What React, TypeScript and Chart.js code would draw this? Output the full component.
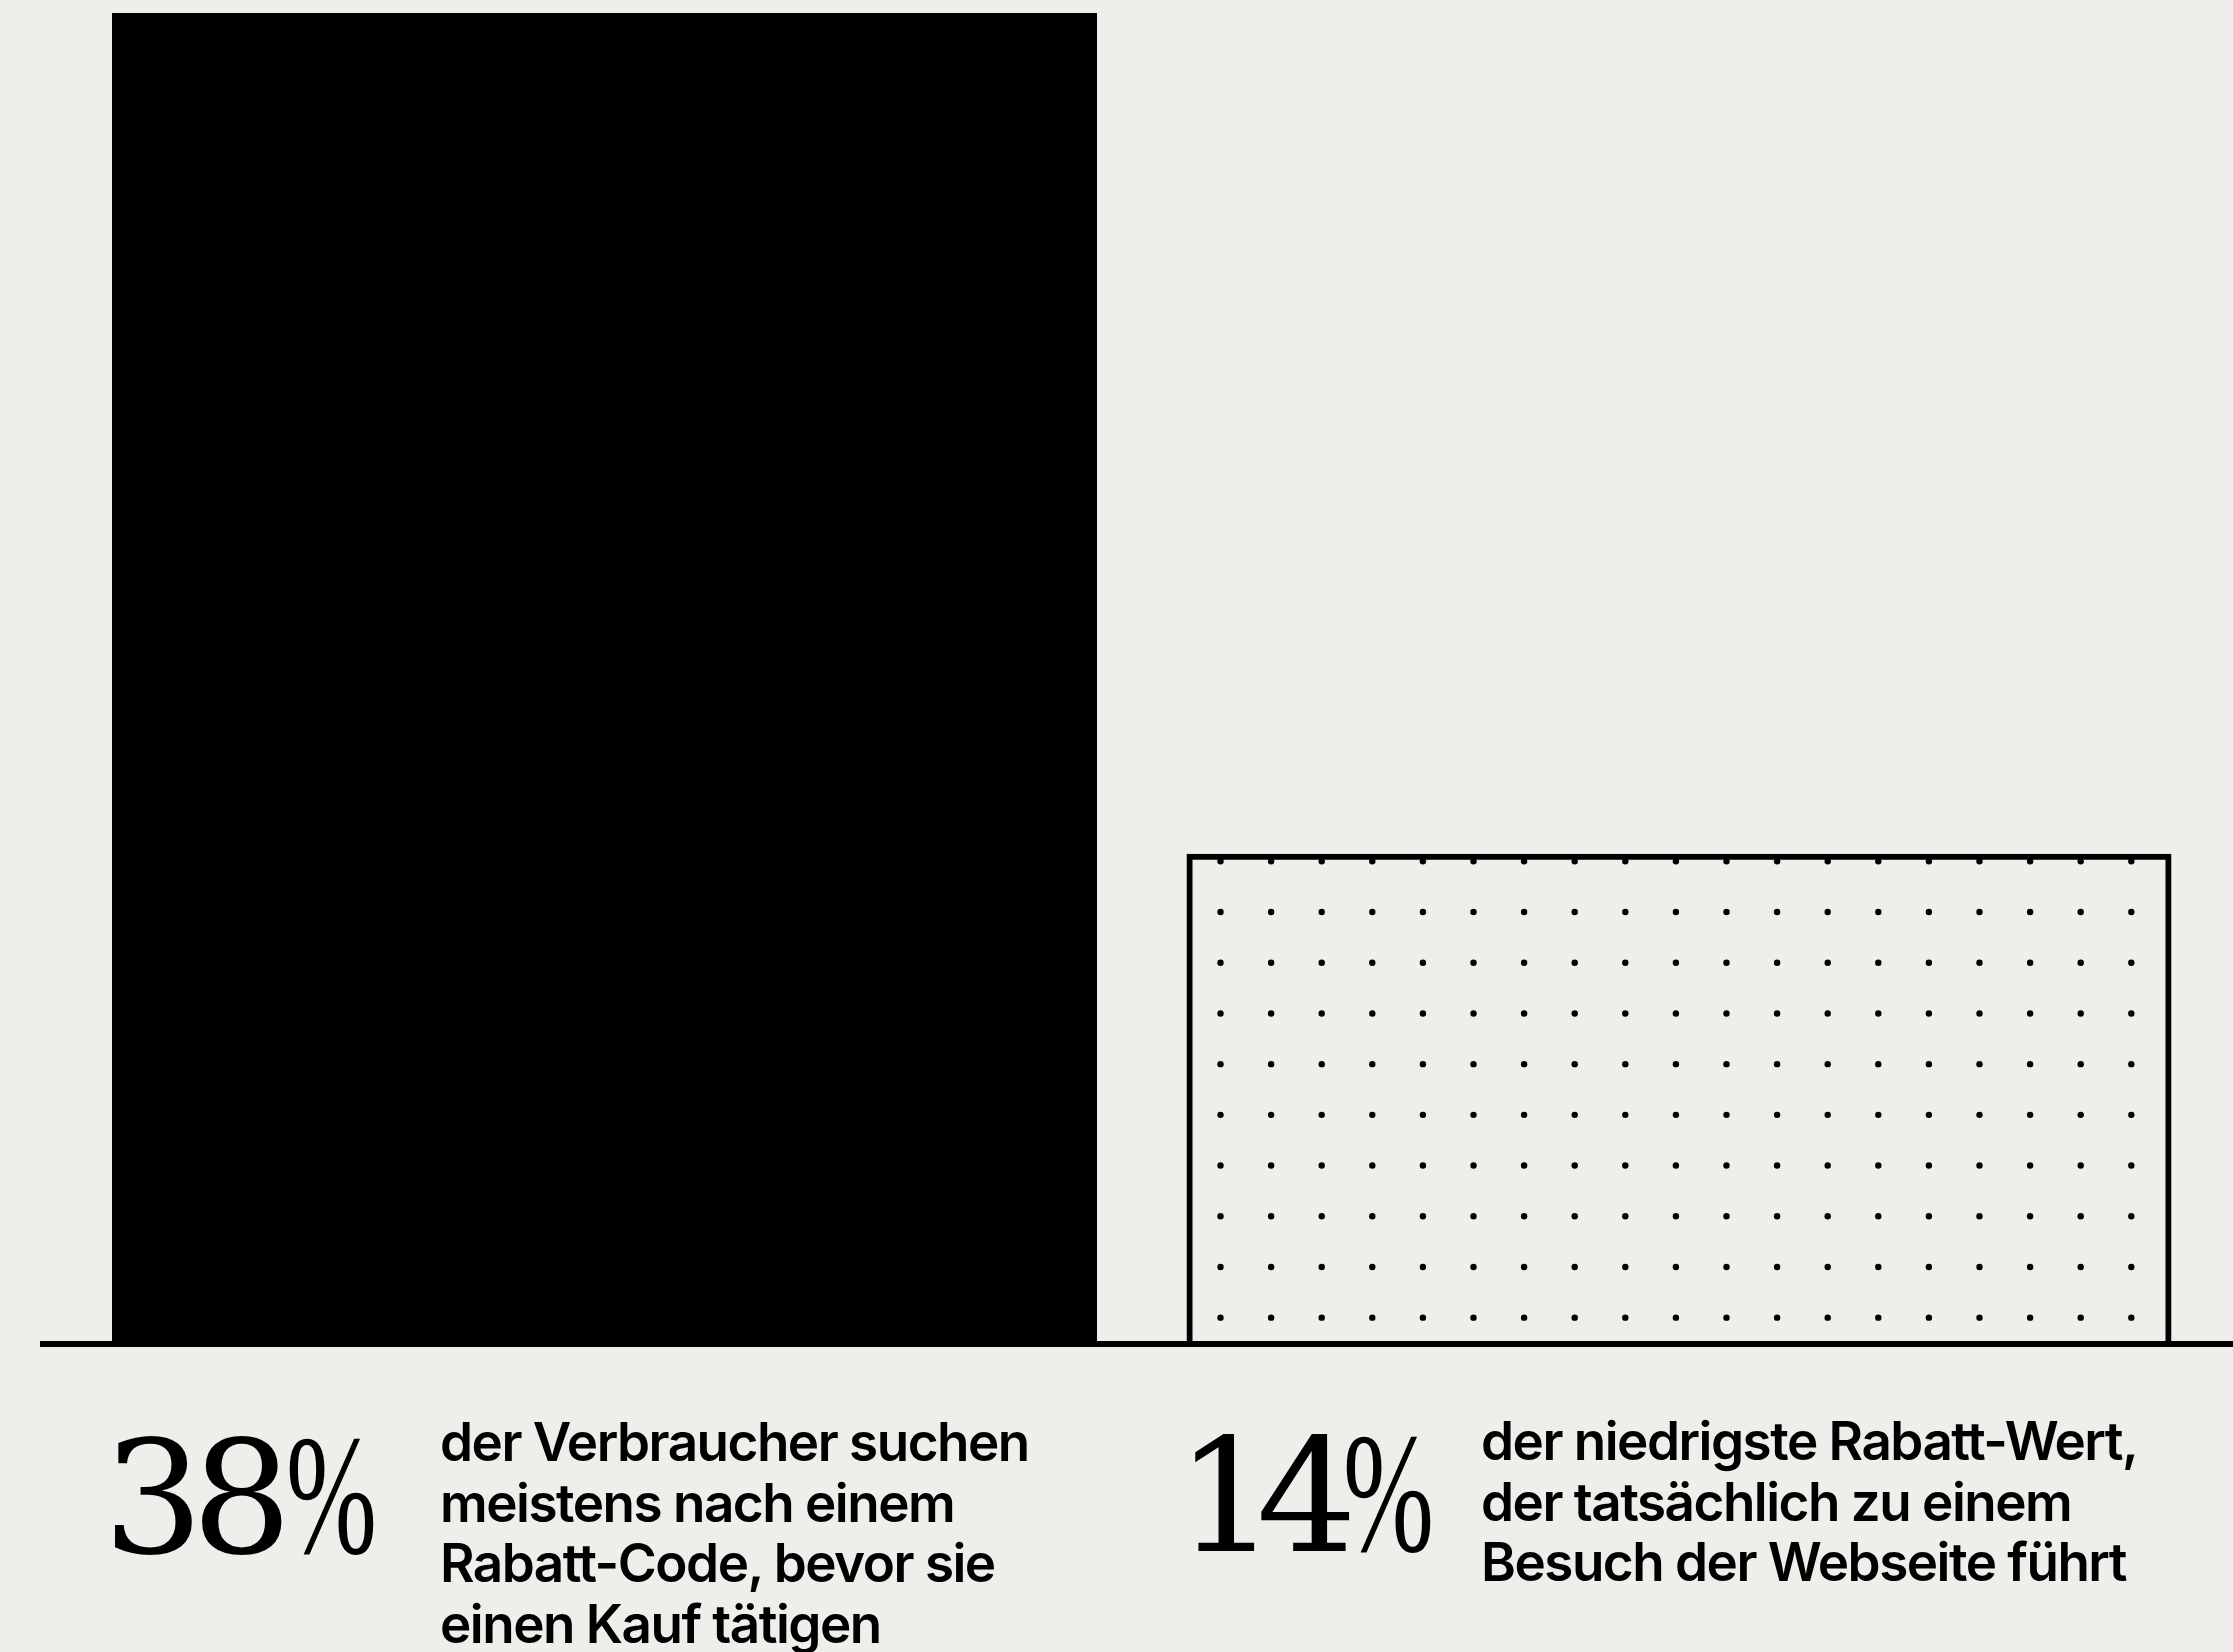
import React, { useEffect, useRef } from "react";
import { Chart, registerables } from "chart.js";

Chart.register(...registerables);

// ---- data ----
const categories = ["Suche nach Rabatt-Code", "Niedrigster wirksamer Rabatt-Wert"];
const values = [38, 14];
const valueLabels = ["38", "14"];
const descriptionLeft = [
  "der Verbraucher suchen",
  "meistens nach einem",
  "Rabatt-Code, bevor sie",
  "einen Kauf tätigen",
];
const descriptionRight = [
  "der niedrigste Rabatt-Wert,",
  "der tatsächlich zu einem",
  "Besuch der Webseite führt",
];
const barStyles = ["solid", "dots"];

// ---- style ----
const BG = "#efeeea";
const INK = "#000000";
const W = 2233;
const H = 1652;
const CANVAS_H = 1352;

const dotsPlugin = {
  id: "dotsPlugin",
  afterDatasetsDraw(chart: any) {
    const ctx = chart.ctx;
    const meta = chart.getDatasetMeta(0);
    ctx.save();
    ctx.fillStyle = INK;
    meta.data.forEach((el: any, i: number) => {
      if (barStyles[i] !== "dots") return;
      const p = el.getProps(["x", "y", "base", "width"], true);
      const left = p.x - p.width / 2;
      const right = p.x + p.width / 2;
      for (let cx = left + 34; cx < right - 20; cx += 50.6) {
        for (let cy = p.y + 7.7; cy < p.base - 15; cy += 50.7) {
          ctx.beginPath();
          ctx.arc(cx, cy, 3.2, 0, Math.PI * 2);
          ctx.fill();
        }
      }
    });
    // baseline
    const y0 = chart.scales.y.getPixelForValue(0);
    ctx.fillRect(40, y0 - 3, chart.width - 40, 6);
    ctx.restore();
  },
};

function BigNumber({
  value,
  left,
  top,
  spacing,
  pctGap,
}: {
  value: string;
  left: number;
  top: number;
  spacing: number;
  pctGap: number;
}) {
  return (
    <div
      style={{
        position: "absolute",
        left,
        top,
        fontFamily: "'DejaVu Serif', serif",
        fontSize: 158,
        lineHeight: "158px",
        color: INK,
        whiteSpace: "nowrap",
        letterSpacing: spacing,
      }}
    >
      {value}
      <span
        style={{
          display: "inline-block",
          fontFamily: "'Liberation Serif', serif",
          fontSize: 172,
          transform: "scaleX(0.635)",
          transformOrigin: "left center",
          letterSpacing: 0,
          marginLeft: pctGap,
        }}
      >
        %
      </span>
    </div>
  );
}

function Description({ lines, left, top }: { lines: string[]; left: number; top: number }) {
  return (
    <div
      style={{
        position: "absolute",
        left,
        top,
        fontFamily: "Inter, 'Noto Sans', sans-serif",
        fontWeight: 600,
        fontSize: 53,
        lineHeight: "60.5px",
        letterSpacing: -1.5,
        color: INK,
        whiteSpace: "nowrap",
      }}
    >
      {lines.map((l, i) => (
        <div key={i}>{l}</div>
      ))}
    </div>
  );
}

export default function App() {
  const ref = useRef<HTMLCanvasElement | null>(null);

  useEffect(() => {
    if (!ref.current) return;
    const chart = new Chart(ref.current, {
      type: "bar",
      data: {
        labels: categories,
        datasets: [
          {
            data: values,
            backgroundColor: barStyles.map((s) => (s === "solid" ? INK : "rgba(0,0,0,0)")),
            borderColor: INK,
            borderWidth: barStyles.map((s) => (s === "solid" ? 0 : 6)),
            borderSkipped: "bottom",
            barPercentage: 0.9167,
            categoryPercentage: 1,
          },
        ],
      },
      options: {
        responsive: false,
        animation: false,
        layout: { padding: { left: 67.25, right: 16.75, top: 13, bottom: 8 } },
        scales: {
          x: { display: false },
          y: { display: false, min: 0, max: 38 },
        },
        plugins: {
          legend: { display: false },
          tooltip: { enabled: false },
        },
      },
      plugins: [dotsPlugin],
    });
    return () => chart.destroy();
  }, []);

  return (
    <div
      style={{
        position: "fixed",
        left: 0,
        top: 0,
        width: W,
        height: H,
        background: BG,
        overflow: "hidden",
      }}
    >
      <canvas
        ref={ref}
        width={W}
        height={CANVAS_H}
        style={{ position: "absolute", left: 0, top: 0, display: "block", width: W, height: CANVAS_H }}
      />
      <BigNumber value={valueLabels[0]} left={103} top={1416} spacing={-12} pctGap={6} />
      <Description lines={descriptionLeft} left={440} top={1412} />
      <BigNumber value={valueLabels[1]} left={1176} top={1414} spacing={-20} pctGap={6} />
      <Description lines={descriptionRight} left={1481} top={1411} />
    </div>
  );
}
